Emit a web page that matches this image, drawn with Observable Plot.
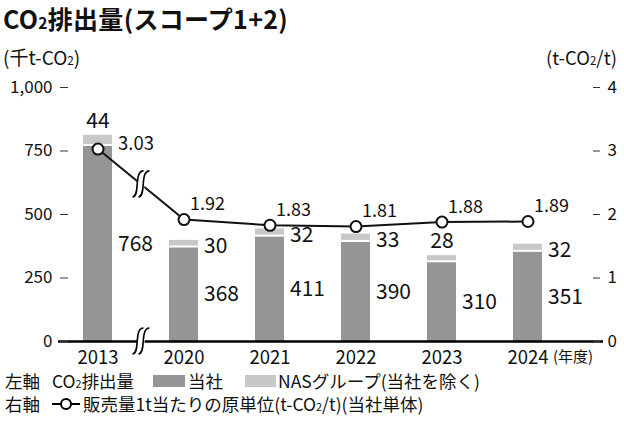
<!DOCTYPE html>
<html><head><meta charset="utf-8">
<script src="https://cdn.jsdelivr.net/npm/d3@7"></script>
<script src="https://cdn.jsdelivr.net/npm/@observablehq/plot@0.6"></script>
<style>
body{margin:0;background:#fff;}
#wrap{position:relative;width:624px;height:422px;font-family:"Noto Sans CJK JP","Noto Sans",sans-serif;color:#111;overflow:hidden;background:#fff;}
.abs{position:absolute;white-space:nowrap;line-height:24px;}
.sub{font-size:0.62em;}
.sw{position:absolute;height:12px;}
</style></head><body>
<div id="wrap">
  <div class="abs" style="left:3px;top:0px;line-height:normal;font-size:25px;font-weight:bold;letter-spacing:0.3px;">CO<span class="sub">2</span>排出量(スコープ1+2)</div>
  <div class="abs" style="left:3px;top:45px;font-size:19px;">(千t-CO<span class="sub">2</span>)</div>
  <div class="abs" style="right:7px;top:45px;font-size:18.5px;">(t-CO<span class="sub">2</span>/t)</div>
  <div id="chart" style="position:absolute;left:0;top:70px;"></div>
  <div class="abs" style="left:5px;top:369px;font-size:17.5px;">左軸</div>
  <div class="abs" style="left:52px;top:369px;font-size:17.5px;">CO<span class="sub">2</span>排出量</div>
  <div class="sw" id="swDark" style="left:153px;top:375px;width:32px;"></div>
  <div class="abs" style="left:188px;top:369px;font-size:17.5px;">当社</div>
  <div class="sw" id="swLight" style="left:245px;top:375px;width:31px;"></div>
  <div class="abs" style="left:278px;top:369px;font-size:17.5px;">NASグループ(当社を除く)</div>
  <div class="abs" style="left:5px;top:392px;font-size:17.5px;">右軸</div>
  <svg style="position:absolute;left:51px;top:396px;" width="30" height="16"><line x1="1" x2="29" y1="8" y2="8" stroke="#000" stroke-width="2"/><circle cx="15" cy="8" r="5" fill="#fff" stroke="#000" stroke-width="2"/></svg>
  <div class="abs" style="left:83px;top:392px;font-size:17.5px;">販売量1t当たりの原単位(t-CO<span class="sub">2</span>/t)(当社単体)</div>
</div>
<script>
// ---- data ----
const years = ["2013", "2020", "2021", "2022", "2023", "2024"];
const ownEmissions = [768, 368, 411, 390, 310, 351];     // 当社 (千t-CO2)
const groupEmissions = [44, 30, 32, 33, 28, 32];         // NASグループ(当社を除く)
const intensity = [3.03, 1.92, 1.83, 1.81, 1.88, 1.89];  // t-CO2/t (右軸)
const leftTicks = [0, 250, 500, 750, 1000];
const rightTicks = [0, 1, 2, 3, 4];

// ---- styling / layout ----
const DARK = "#959595", LIGHT = "#c8c8c8";
document.getElementById("swDark").style.background = DARK;
document.getElementById("swLight").style.background = LIGHT;
const RATIO = 1000 / 4; // right axis 0–4 aligned with left axis 0–1000
const labelAbove = new Set(["2013", "2023"]);

const rows = years.map((year, i) => ({
  year,
  own: ownEmissions[i],
  group: groupEmissions[i],
  total: ownEmissions[i] + groupEmissions[i],
  intensity: intensity[i]
}));

function breakMarks(index, scales) {
  const x = scales.x, y = scales.y;
  const bw = x.bandwidth ? x.bandwidth() : 0;
  const xa = x(years[0]) + bw / 2, xb = x(years[1]) + bw / 2;
  const cx = (xa + xb) / 2;
  const ya = y(intensity[0] * RATIO), yb = y(intensity[1] * RATIO);
  const g = d3.create("svg:g");
  for (const cy of [(ya + yb) / 2, y(0)]) {
    const gg = g.append("g").attr("transform", `translate(${cx},${cy})`);
    gg.append("path")
      .attr("d", "M-8,13 C0,13 -7,-13 3,-13 L9,-13 C1,-13 8,13 -2,13 Z")
      .attr("fill", "#fff");
    gg.append("path").attr("d", "M-8,13 C0,13 -7,-13 3,-13")
      .attr("fill", "none").attr("stroke", "#000").attr("stroke-width", 1.6);
    gg.append("path").attr("d", "M-2,13 C6,13 -1,-13 9,-13")
      .attr("fill", "none").attr("stroke", "#000").attr("stroke-width", 1.6);
  }
  return g.node();
}

const chart = Plot.plot({
  width: 624,
  height: 300,
  marginTop: 17,
  marginBottom: 29,
  marginLeft: 68,
  marginRight: 32,
  style: {fontFamily: '"Noto Sans CJK JP","Noto Sans",sans-serif', color: "#111", background: "transparent"},
  x: {type: "band", domain: years, range: [55, 571], paddingInner: 0.66, paddingOuter: 0.33},
  y: {domain: [0, 1000]},
  marks: [
    Plot.barY(rows, {x: "year", y1: 0, y2: "own", fill: DARK}),
    Plot.barY(rows, {x: "year", y1: "own", y2: "total", fill: LIGHT, insetBottom: 2}),
    Plot.ruleY([0], {stroke: "#000", strokeWidth: 2.5, insetLeft: -10, insetRight: -11}),
    Plot.text(rows, {x: "year", y: d => d.own / 2, text: d => String(d.own), dx: 20, textAnchor: "start", fontSize: 21, fill: "#111"}),
    Plot.text(rows.filter(d => !labelAbove.has(d.year)), {x: "year", y: d => d.own + d.group / 2, text: d => String(d.group), dx: 20, dy: 2, textAnchor: "start", fontSize: 21, fill: "#111"}),
    Plot.text(rows.filter(d => labelAbove.has(d.year)), {x: "year", y: "total", text: d => String(d.group), dy: -14, textAnchor: "middle", fontSize: 21, fill: "#111"}),
    Plot.line(rows, {x: "year", y: d => d.intensity * RATIO, stroke: "#111", strokeWidth: 2}),
    breakMarks,
    Plot.dot(rows, {x: "year", y: d => d.intensity * RATIO, r: 5.5, fill: "#fff", stroke: "#111", strokeWidth: 2}),
    Plot.text(rows.slice(0, 1), {x: "year", y: d => d.intensity * RATIO, text: d => d3.format(".2f")(d.intensity), dx: 20, dy: -5, textAnchor: "start", fontSize: 18.5, fill: "#111"}),
    Plot.text(rows.slice(1), {x: "year", y: d => d.intensity * RATIO, text: d => d3.format(".2f")(d.intensity), dx: 6, dy: -15, textAnchor: "start", fontSize: 18, fill: "#111"}),
    Plot.axisY(leftTicks, {anchor: "left", tickSize: 8, tickPadding: 8, tickFormat: d3.format(","), fontSize: 17, label: null, stroke: "#333"}),
    Plot.axisY(rightTicks.map(t => t * RATIO), {anchor: "right", tickSize: 7, tickPadding: 8, tickFormat: d => String(d / RATIO), fontSize: 17, label: null, stroke: "#333"}),
    Plot.axisX({tickSize: 0, tickPadding: 9, fontSize: 18.5, label: null}),
    Plot.text(["(年度)"], {x: () => years[years.length - 1], y: () => 0, text: d => d, dx: 25, dy: 16, textAnchor: "start", fontSize: 15, fill: "#111"})
  ]
});
document.getElementById("chart").appendChild(chart);
</script>
</body></html>
